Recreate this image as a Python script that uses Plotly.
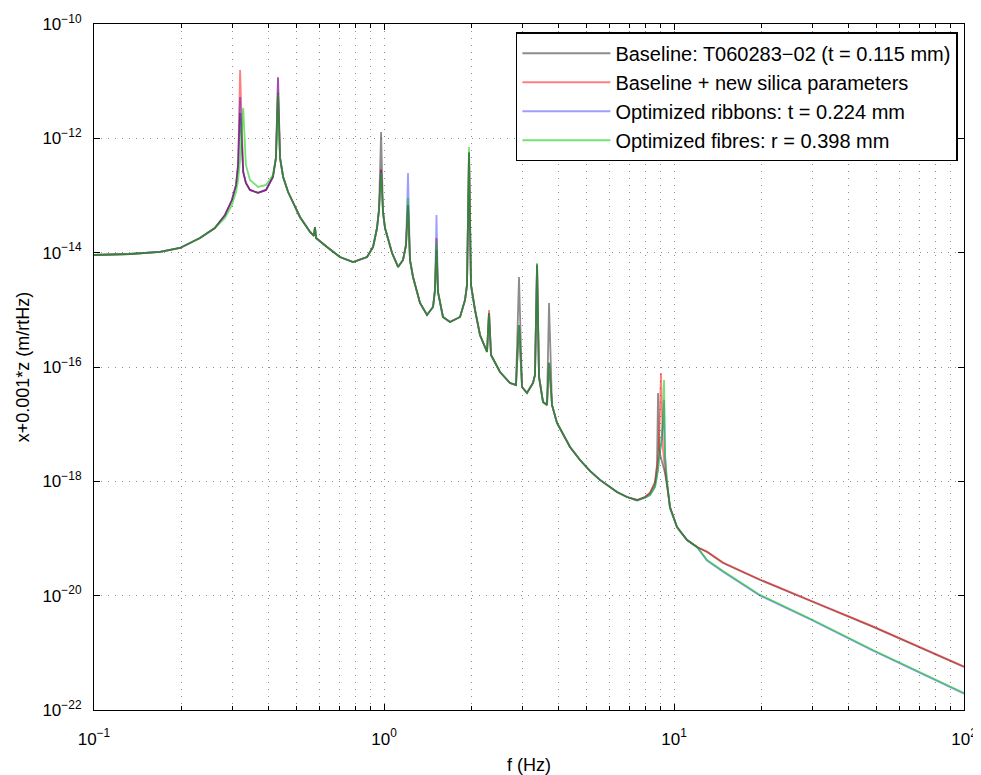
import plotly.graph_objects as go

# Frequencies (Hz)
freq = [0.100, 0.133, 0.169, 0.198, 0.232, 0.261, 0.283, 0.299, 0.309, 0.314,
        0.319, 0.327, 0.334, 0.345, 0.368, 0.392, 0.414, 0.424, 0.431, 0.438,
        0.449, 0.467, 0.513, 0.556, 0.573, 0.578, 0.583, 0.600, 0.636, 0.705,
        0.782, 0.874, 0.917, 0.946, 0.961, 0.977, 0.992, 1.008, 1.066, 1.118,
        1.163, 1.191, 1.210, 1.229, 1.259, 1.331, 1.407, 1.476, 1.499, 1.517,
        1.535, 1.597, 1.689, 1.829, 1.903, 1.933, 1.964, 1.995, 2.060, 2.143,
        2.266, 2.302, 2.339, 2.512, 2.720, 2.852, 2.921, 2.992, 3.112, 3.265,
        3.316, 3.371, 3.424, 3.535, 3.648, 3.707, 3.796, 3.950, 4.380, 4.742,
        5.130, 5.555, 6.359, 6.885, 7.455, 7.943, 8.267, 8.600, 8.738, 8.810,
        8.878, 9.019, 9.165, 9.240, 9.311, 9.460, 9.687, 10.24, 11.09, 12.00,
        13.00, 14.76, 19.80, 30.16, 48.57, 100.0]

baseline = [9.11e-15, 9.48e-15, 1.03e-14, 1.21e-14, 1.81e-14, 2.70e-14, 4.56e-14, 8.34e-14, 1.53e-13, 3.42e-13,
            2.77e-12, 2.58e-13, 1.66e-13, 1.25e-13, 1.11e-13, 1.25e-13, 2.11e-13, 4.53e-13, 6.21e-12, 4.53e-13,
            2.11e-13, 1.15e-13, 4.21e-14, 2.30e-14, 1.96e-14, 2.81e-14, 1.81e-14, 1.60e-14, 1.26e-14, 8.40e-15,
            6.87e-15, 8.40e-15, 1.26e-14, 2.70e-14, 5.58e-14, 1.29e-12, 5.15e-14, 2.70e-14, 9.87e-15, 5.62e-15,
            7.45e-15, 1.36e-14, 6.82e-14, 7.45e-15, 3.76e-15, 1.32e-15, 8.13e-16, 1.12e-15, 2.22e-15, 1.11e-14,
            2.05e-15, 7.50e-16, 6.13e-16, 7.50e-16, 1.49e-15, 2.72e-15, 5.77e-13, 2.72e-15, 9.94e-16, 3.63e-16,
            1.83e-16, 8.81e-16, 1.62e-16, 8.18e-17, 5.25e-17, 4.85e-17, 3.76e-15, 4.47e-17, 3.51e-17, 5.25e-17,
            7.25e-17, 6.30e-15, 6.69e-17, 2.44e-17, 2.17e-17, 1.32e-15, 2.17e-17, 1.05e-17, 3.99e-18, 2.36e-18,
            1.52e-18, 1.06e-18, 6.52e-19, 5.32e-19, 4.72e-19, 5.32e-19, 6.26e-19, 9.75e-19, 1.93e-18, 3.51e-17,
            3.54e-18, 2.56e-18, 1.93e-18, 1.71e-18, 1.40e-18, 8.63e-19, 3.56e-19, 1.59e-19, 9.42e-20, 7.11e-20,
            5.81e-20, 3.73e-20, 1.88e-20, 7.76e-21, 2.84e-21, 5.66e-22]

new_silica = [9.11e-15, 9.48e-15, 1.03e-14, 1.21e-14, 1.81e-14, 2.70e-14, 4.56e-14, 8.34e-14, 1.53e-13, 3.42e-13,
              1.57e-11, 2.58e-13, 1.66e-13, 1.25e-13, 1.11e-13, 1.25e-13, 2.11e-13, 4.53e-13, 1.18e-11, 4.53e-13,
              2.11e-13, 1.15e-13, 4.21e-14, 2.30e-14, 1.96e-14, 2.81e-14, 1.81e-14, 1.60e-14, 1.26e-14, 8.40e-15,
              6.87e-15, 8.40e-15, 1.26e-14, 2.70e-14, 5.58e-14, 2.90e-13, 5.15e-14, 2.70e-14, 9.87e-15, 5.62e-15,
              7.45e-15, 1.36e-14, 6.82e-14, 7.45e-15, 3.76e-15, 1.32e-15, 8.13e-16, 1.12e-15, 2.22e-15, 1.81e-14,
              2.05e-15, 7.50e-16, 6.13e-16, 7.50e-16, 1.49e-15, 2.72e-15, 5.50e-13, 2.72e-15, 9.94e-16, 3.63e-16,
              1.83e-16, 9.94e-16, 1.62e-16, 8.18e-17, 5.25e-17, 4.85e-17, 5.43e-16, 4.47e-17, 3.51e-17, 5.25e-17,
              7.25e-17, 6.00e-15, 6.69e-17, 2.44e-17, 2.17e-17, 1.18e-16, 2.17e-17, 1.05e-17, 3.99e-18, 2.36e-18,
              1.52e-18, 1.06e-18, 6.52e-19, 5.32e-19, 4.72e-19, 5.32e-19, 6.26e-19, 8.99e-19, 1.58e-18, 2.56e-18,
              4.33e-18, 7.86e-17, 3.54e-18, 2.18e-18, 1.58e-18, 8.63e-19, 3.56e-19, 1.59e-19, 9.42e-20, 7.11e-20,
              5.90e-20, 3.80e-20, 1.92e-20, 7.90e-21, 2.90e-21, 5.80e-22]

ribbons = [9.11e-15, 9.48e-15, 1.03e-14, 1.21e-14, 1.81e-14, 2.70e-14, 4.56e-14, 8.34e-14, 1.53e-13, 3.42e-13,
           5.28e-12, 2.58e-13, 1.66e-13, 1.25e-13, 1.11e-13, 1.25e-13, 2.11e-13, 4.53e-13, 1.15e-11, 4.53e-13,
           2.11e-13, 1.15e-13, 4.21e-14, 2.30e-14, 1.96e-14, 2.81e-14, 1.81e-14, 1.60e-14, 1.26e-14, 8.40e-15,
           6.87e-15, 8.40e-15, 1.26e-14, 2.70e-14, 5.58e-14, 2.79e-13, 5.15e-14, 2.70e-14, 9.87e-15, 5.62e-15,
           7.45e-15, 1.36e-14, 2.48e-13, 7.45e-15, 3.76e-15, 1.32e-15, 8.13e-16, 1.12e-15, 2.22e-15, 4.56e-14,
           2.05e-15, 7.50e-16, 6.13e-16, 7.50e-16, 1.49e-15, 2.72e-15, 5.60e-13, 2.72e-15, 9.94e-16, 3.63e-16,
           1.83e-16, 8.81e-16, 1.62e-16, 8.18e-17, 5.25e-17, 4.85e-17, 5.43e-16, 4.47e-17, 3.51e-17, 5.25e-17,
           7.25e-17, 6.00e-15, 6.69e-17, 2.44e-17, 2.17e-17, 1.18e-16, 2.17e-17, 1.05e-17, 3.99e-18, 2.36e-18,
           1.52e-18, 1.06e-18, 6.52e-19, 5.32e-19, 4.60e-19, 5.20e-19, 5.77e-19, 7.96e-19, 1.24e-18, 1.58e-18,
           2.56e-18, 4.33e-18, 1.00e-17, 2.65e-17, 2.89e-18, 9.75e-19, 3.42e-19, 1.59e-19, 9.42e-20, 7.11e-20,
           4.10e-20, 2.62e-20, 1.00e-20, 3.65e-21, 1.09e-21, 1.93e-22]

fibres = [9.11e-15, 9.48e-15, 1.03e-14, 1.21e-14, 1.81e-14, 2.70e-14, 4.04e-14, 6.82e-14, 1.15e-13, 1.87e-13,
          4.18e-13, 3.40e-12, 3.42e-13, 1.87e-13, 1.41e-13, 1.53e-13, 2.28e-13, 4.53e-13, 6.00e-12, 4.53e-13,
          2.11e-13, 1.15e-13, 4.21e-14, 2.30e-14, 1.96e-14, 2.81e-14, 1.81e-14, 1.60e-14, 1.26e-14, 8.40e-15,
          6.87e-15, 8.40e-15, 1.26e-14, 2.70e-14, 5.58e-14, 2.48e-13, 5.15e-14, 2.70e-14, 9.87e-15, 5.62e-15,
          7.45e-15, 1.36e-14, 9.04e-14, 7.45e-15, 3.76e-15, 1.32e-15, 8.13e-16, 1.12e-15, 2.22e-15, 1.54e-14,
          2.05e-15, 7.50e-16, 6.13e-16, 7.50e-16, 1.49e-15, 2.72e-15, 7.05e-13, 2.72e-15, 9.94e-16, 3.63e-16,
          1.83e-16, 8.81e-16, 1.62e-16, 8.18e-17, 5.25e-17, 4.85e-17, 5.43e-16, 4.47e-17, 3.51e-17, 5.25e-17,
          7.25e-17, 6.60e-15, 6.69e-17, 2.44e-17, 2.17e-17, 1.18e-16, 2.17e-17, 1.05e-17, 3.99e-18, 2.36e-18,
          1.52e-18, 1.06e-18, 6.52e-19, 5.32e-19, 4.60e-19, 5.20e-19, 5.77e-19, 7.96e-19, 1.24e-18, 1.58e-18,
          2.56e-18, 4.33e-18, 1.18e-17, 5.93e-17, 2.89e-18, 9.75e-19, 3.42e-19, 1.59e-19, 9.42e-20, 7.11e-20,
          4.21e-20, 2.70e-20, 1.03e-20, 3.76e-21, 1.12e-21, 1.99e-22]

series_names = ["Baseline: T060283\u221202 (t = 0.115 mm)",
                "Baseline + new silica parameters",
                "Optimized ribbons: t = 0.224 mm",
                "Optimized fibres: r = 0.398 mm"]
series_values = [baseline, new_silica, ribbons, fibres]
series_colors = ["rgba(0,0,0,0.45)", "rgba(255,0,0,0.5)",
                 "rgba(0,0,255,0.38)", "rgba(0,200,0,0.55)"]

x_tick_vals = [0.1, 1, 10, 100]
x_tick_text = ["10<sup>\u22121</sup>", "10<sup>0</sup>", "10<sup>1</sup>", "10<sup>2</sup>"]
x_minor_vals = [m * d for d in (0.1, 1, 10) for m in range(2, 10)]
y_tick_vals = [1e-22, 1e-20, 1e-18, 1e-16, 1e-14, 1e-12, 1e-10]
y_tick_text = ["10<sup>\u2212%d</sup>" % e for e in (22, 20, 18, 16, 14, 12, 10)]

fig = go.Figure()
for i, (name, vals, col) in enumerate(zip(series_names, series_values, series_colors)):
    fig.add_trace(go.Scatter(x=freq, y=vals, mode="lines", name=name,
                             line=dict(color=col, width=1.8)))

GRIDC = "#8c8c8c"
GDASH = "1px,6px"
fig.update_xaxes(type="log", range=[-1, 2], tickvals=x_tick_vals, ticktext=x_tick_text,
                 ticks="inside", ticklen=6, tickcolor="black", automargin=False,
                 ticklabeloverflow="allow",
                 showline=True, linecolor="black", linewidth=1.2, mirror="allticks",
                 zeroline=False, tickfont=dict(size=17), ticklabelstandoff=13,
                 showgrid=True, gridcolor=GRIDC, griddash=GDASH, gridwidth=1,
                 minor=dict(tickvals=x_minor_vals, ticks="inside", ticklen=4, tickcolor="black",
                            showgrid=True, gridcolor=GRIDC, griddash=GDASH, gridwidth=1),
                 title=dict(text="f (Hz)", font=dict(size=18), standoff=17))
fig.update_yaxes(type="log", range=[-22, -10], tickvals=y_tick_vals, ticktext=y_tick_text,
                 ticks="inside", ticklen=6, tickcolor="black", automargin=False,
                 ticklabeloverflow="allow",
                 showline=True, linecolor="black", linewidth=1.2, mirror="allticks",
                 zeroline=False, tickfont=dict(size=17), ticklabelstandoff=8,
                 showgrid=True, gridcolor=GRIDC, griddash=GDASH, gridwidth=1,
                 title=dict(text="x+0.001*z (m/rtHz)", font=dict(size=18), standoff=8))

# The page body adds an 8px margin at the top-left, so sizes/margins compensate for it.
fig.update_layout(
    width=973, height=767,
    margin=dict(l=86, r=17, t=16, b=65),
    paper_bgcolor="white", plot_bgcolor="white",
    font=dict(family="Liberation Sans, Arial, sans-serif", size=15, color="black"),
    showlegend=True,
    legend=dict(x=0.993, y=0.988, xanchor="right", yanchor="top",
                bordercolor="black", borderwidth=1.5, bgcolor="white",
                font=dict(size=20), itemwidth=88, tracegroupgap=0,
                traceorder="normal"),
)

fig.write_html("out.html")
